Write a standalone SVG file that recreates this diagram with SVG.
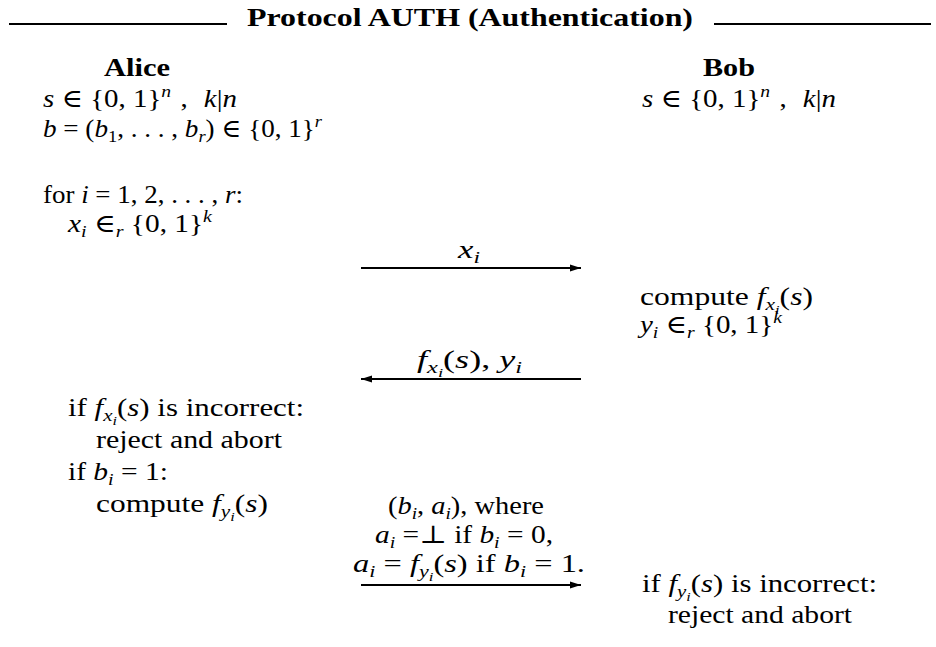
<svg xmlns="http://www.w3.org/2000/svg" width="936" height="647" viewBox="0 0 936 647">
<style>
.t{font-family:"Liberation Serif","DejaVu Serif",serif;font-size:25px;fill:#000}
.b{font-weight:bold}
.i{font-style:italic}
.sub{font-size:17px;baseline-shift:-5px}
.ss{font-size:13px;baseline-shift:-9px}
.sup{font-size:17px;baseline-shift:10px}
.rule{stroke:#000;stroke-width:2}
.arr{stroke:#000;stroke-width:1.8;fill:none;marker-end:url(#ah)}
</style>
<defs>
<marker id="ah" markerUnits="userSpaceOnUse" markerWidth="12" markerHeight="8" refX="11" refY="4" orient="auto">
<path d="M0,0.5 L11,4 L0,7.5 z" fill="#000"/>
</marker>
</defs>
<rect width="936" height="647" fill="#fff"/>
<g id="title">
<line class="rule" x1="9" y1="24" x2="227" y2="24"/>
<line class="rule" x1="714" y1="24" x2="931" y2="24"/>
<text class="t b" x="247" y="26" font-size="27" textLength="446" lengthAdjust="spacingAndGlyphs">Protocol AUTH (Authentication)</text>
</g>
<g id="alice">
<text class="t b" x="104" y="76" textLength="66" lengthAdjust="spacingAndGlyphs">Alice</text>
<text class="t" x="43" y="107" textLength="194" lengthAdjust="spacingAndGlyphs"><tspan class="i">s</tspan> ∈ {0, 1}<tspan class="sup i">n</tspan><tspan dx="8">,</tspan><tspan class="i" dx="14">k</tspan>|<tspan class="i">n</tspan></text>
<text class="t" x="43" y="137" textLength="279" lengthAdjust="spacingAndGlyphs"><tspan class="i">b</tspan> = (<tspan class="i">b</tspan><tspan class="sub">1</tspan>, . . . , <tspan class="i">b</tspan><tspan class="sub i">r</tspan>) ∈ {0, 1}<tspan class="sup i">r</tspan></text>
<text class="t" x="43" y="203" textLength="200" lengthAdjust="spacingAndGlyphs">for <tspan class="i">i</tspan> = 1, 2, . . . , <tspan class="i">r</tspan>:</text>
<text class="t" x="68" y="232" textLength="144" lengthAdjust="spacingAndGlyphs"><tspan class="i">x</tspan><tspan class="sub i">i</tspan> ∈<tspan class="sub i">r</tspan> {0, 1}<tspan class="sup i">k</tspan></text>
<text class="t" x="68" y="416" textLength="236" lengthAdjust="spacingAndGlyphs">if <tspan class="i">f</tspan><tspan class="sub i">x</tspan><tspan class="ss i">i</tspan>(<tspan class="i">s</tspan>) is incorrect:</text>
<text class="t" x="96" y="448" textLength="186" lengthAdjust="spacingAndGlyphs">reject and abort</text>
<text class="t" x="68" y="480" textLength="100" lengthAdjust="spacingAndGlyphs">if <tspan class="i">b</tspan><tspan class="sub i">i</tspan> = 1:</text>
<text class="t" x="96" y="512" textLength="172" lengthAdjust="spacingAndGlyphs">compute <tspan class="i">f</tspan><tspan class="sub i">y</tspan><tspan class="ss i">i</tspan>(<tspan class="i">s</tspan>)</text>
</g>
<g id="bob">
<text class="t b" x="703" y="76" textLength="52" lengthAdjust="spacingAndGlyphs">Bob</text>
<text class="t" x="642" y="107" textLength="194" lengthAdjust="spacingAndGlyphs"><tspan class="i">s</tspan> ∈ {0, 1}<tspan class="sup i">n</tspan><tspan dx="8">,</tspan><tspan class="i" dx="14">k</tspan>|<tspan class="i">n</tspan></text>
<text class="t" x="640" y="305" textLength="173" lengthAdjust="spacingAndGlyphs">compute <tspan class="i">f</tspan><tspan class="sub i">x</tspan><tspan class="ss i">i</tspan>(<tspan class="i">s</tspan>)</text>
<text class="t" x="640" y="333" textLength="142" lengthAdjust="spacingAndGlyphs"><tspan class="i">y</tspan><tspan class="sub i">i</tspan> ∈<tspan class="sub i">r</tspan> {0, 1}<tspan class="sup i">k</tspan></text>
<text class="t" x="642" y="592" textLength="235" lengthAdjust="spacingAndGlyphs">if <tspan class="i">f</tspan><tspan class="sub i">y</tspan><tspan class="ss i">i</tspan>(<tspan class="i">s</tspan>) is incorrect:</text>
<text class="t" x="668" y="623" textLength="184" lengthAdjust="spacingAndGlyphs">reject and abort</text>
</g>
<g id="connectors">
<line class="arr" x1="361" y1="268" x2="581" y2="268"/>
<text class="t" x="458" y="258" textLength="22" lengthAdjust="spacingAndGlyphs"><tspan class="i">x</tspan><tspan class="sub i">i</tspan></text>
<line class="arr" x1="581" y1="379" x2="361" y2="379"/>
<text class="t" x="417" y="368" textLength="105" lengthAdjust="spacingAndGlyphs"><tspan class="i">f</tspan><tspan class="sub i">x</tspan><tspan class="ss i">i</tspan>(<tspan class="i">s</tspan>), <tspan class="i">y</tspan><tspan class="sub i">i</tspan></text>
<line class="arr" x1="361" y1="585" x2="581" y2="585"/>
<text class="t" x="388" y="514" textLength="156" lengthAdjust="spacingAndGlyphs">(<tspan class="i">b</tspan><tspan class="sub i">i</tspan>, <tspan class="i">a</tspan><tspan class="sub i">i</tspan>), where</text>
<text class="t" x="375" y="543" textLength="178" lengthAdjust="spacingAndGlyphs"><tspan class="i">a</tspan><tspan class="sub i">i</tspan> =⊥ if <tspan class="i">b</tspan><tspan class="sub i">i</tspan> = 0,</text>
<text class="t" x="353" y="572" textLength="232" lengthAdjust="spacingAndGlyphs"><tspan class="i">a</tspan><tspan class="sub i">i</tspan> = <tspan class="i">f</tspan><tspan class="sub i">y</tspan><tspan class="ss i">i</tspan>(<tspan class="i">s</tspan>) if <tspan class="i">b</tspan><tspan class="sub i">i</tspan> = 1.</text>
</g>
</svg>
